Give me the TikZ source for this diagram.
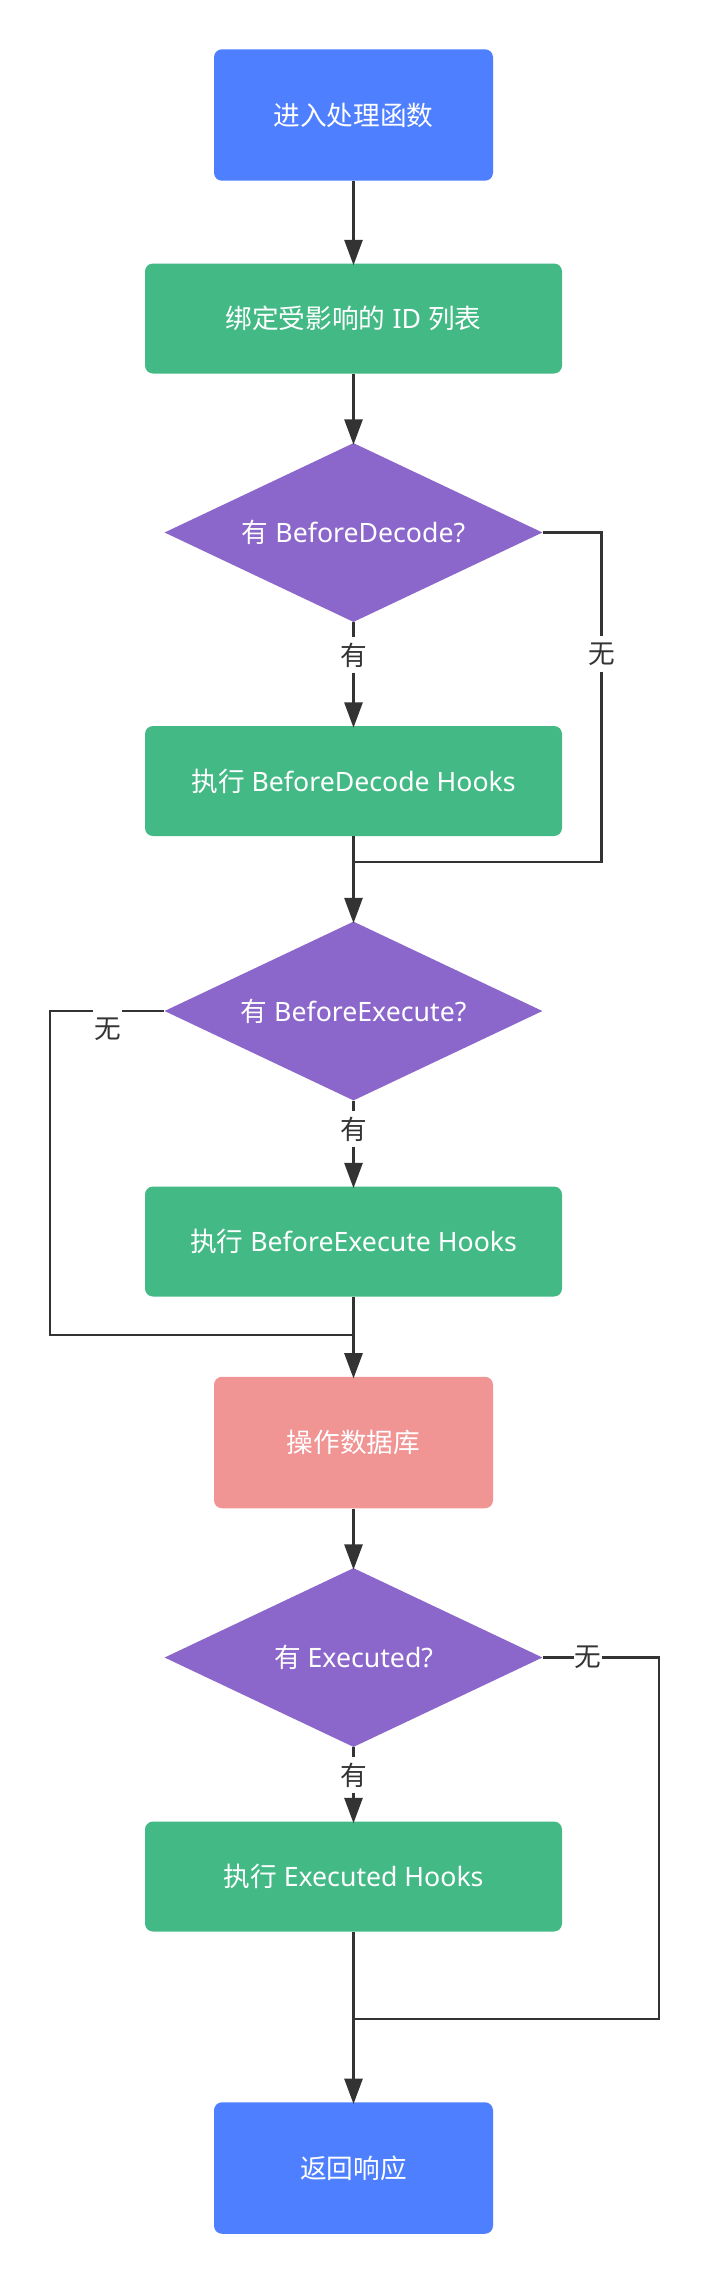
\documentclass[tikz,border=0pt]{standalone}
\usepackage{fontspec}
\setmainfont{Noto Sans}
\newfontfamily\cjk{Noto Sans CJK SC}
\usetikzlibrary{arrows.meta,shapes.geometric}
\definecolor{cblue}{HTML}{4E7FFF}
\definecolor{cgreen}{HTML}{43BA85}
\definecolor{cpurple}{HTML}{8C67CB}
\definecolor{cpink}{HTML}{F09494}
\definecolor{cline}{HTML}{333333}
\tikzset{
  every node/.style={font=\fontsize{20}{24}\selectfont},
  boxbase/.style={rectangle, rounded corners=6pt, text=white, inner sep=0pt},
  bigbox/.style={boxbase, minimum width=209.25pt, minimum height=98.6pt},
  widebox/.style={boxbase, minimum width=312.75pt, minimum height=82.5pt},
  decision/.style={diamond, aspect=2.11, fill=cpurple, text=white, inner sep=0pt,
    minimum width=283.5pt, minimum height=134.25pt},
  ln/.style={draw=cline, line width=2pt},
  arr/.style={ln, -{Triangle[length=19pt,width=13.5pt]}, shorten >=-1.5pt},
  lbl/.style={fill=white, text=cline, inner xsep=0.6pt, inner ysep=0pt, minimum height=26pt}
}
\begin{document}
\begin{tikzpicture}[x=0.75pt,y=-0.75pt]
\fill[white] (0,0) rectangle (709,2282);
\useasboundingbox (0,0) rectangle (709,2282);

\node[bigbox, fill=cblue] (b1) at (353.5,115) {{\cjk 进入处理函数}};
\node[widebox, fill=cgreen] (b2) at (353.5,318.5) {{\cjk 绑定受影响的} ID {\cjk 列表}};
\node[decision] (d1) at (353.5,532.5) {{\cjk 有} BeforeDecode?};
\node[widebox, fill=cgreen] (b3) at (353.5,781) {{\cjk 执行} BeforeDecode Hooks};
\node[decision] (d2) at (353.5,1011) {{\cjk 有} BeforeExecute?};
\node[widebox, fill=cgreen] (b4) at (353.5,1241.5) {{\cjk 执行} BeforeExecute Hooks};
\node[bigbox, fill=cpink] (b5) at (353.5,1442.5) {{\cjk 操作数据库}};
\node[decision] (d3) at (353.5,1657.5) {{\cjk 有} Executed?};
\node[widebox, fill=cgreen] (b6) at (353.5,1876.5) {{\cjk 执行} Executed Hooks};
\node[bigbox, fill=cblue] (b7) at (353.5,2168) {{\cjk 返回响应}};

\coordinate (m1) at (353.5,862);
\coordinate (r1) at (601.5,862);
\coordinate (m2) at (353.5,1335);
\coordinate (l2) at (50,1335);
\coordinate (m3) at (353.5,2019);
\coordinate (r3) at (659,2019);

\node[lbl] (y1) at (353.5,655) {{\cjk 有}};
\node[lbl] (n1) at (601.5,654) {{\cjk 无}};
\node[lbl] (y2) at (353.5,1129) {{\cjk 有}};
\node[lbl] (y3) at (353.5,1775) {{\cjk 有}};
\node[lbl] (n3) at (588,1657.5) {{\cjk 无}};

\draw[arr] (b1) -- (b2);
\draw[arr] (b2) -- (d1);
\draw[ln] (d1.south) -- (y1.north);
\draw[arr] (y1.south) -- (b3);
\draw[ln] (d1.east) -| (n1.north);
\draw[ln] (n1.south) -- (r1) -- (m1);
\draw[ln] (b3) -- (m1);
\draw[arr] (m1) -- (d2.north);
\draw[ln] (d2.south) -- (y2.north);
\draw[arr] (y2.south) -- (b4);
\draw[ln] (d2.west) -| (l2) -- (m2);
\draw[arr] (b4) -- (b5);
\draw[arr] (b5) -- (d3);
\draw[ln] (d3.south) -- (y3.north);
\draw[arr] (y3.south) -- (b6);
\draw[ln] (d3.east) -- (n3.west);
\draw[ln] (n3.east) -| (r3) -- (m3);
\draw[arr] (b6) -- (b7);

\node[lbl, minimum height=30pt] (n2) at (107.5,1029) {{\cjk 无}};
\end{tikzpicture}
\end{document}
